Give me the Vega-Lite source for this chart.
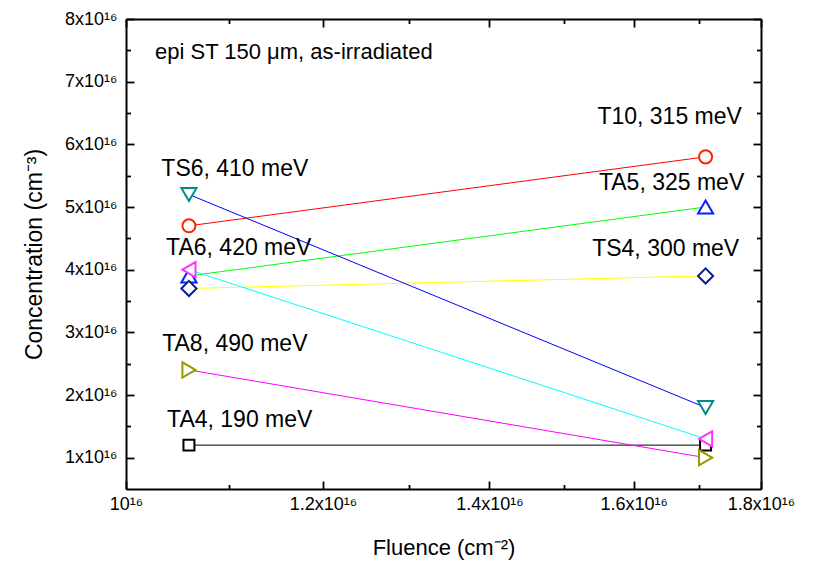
{
  "$schema": "https://vega.github.io/schema/vega-lite/v6.json",
  "autosize": {"type": "none"},
  "width": 635,
  "height": 470,
  "padding": {"left": 126, "top": 19, "right": 54, "bottom": 74},
  "background": "white",
  "config": {
    "view": {"stroke": null},
    "font": "Liberation Sans",
    "axis": {
      "domainColor": "black", "tickColor": "black", "domainWidth": 2, "tickWidth": 1.8,
      "labelColor": "black", "titleColor": "black", "labelFont": "Liberation Sans", "titleFont": "Liberation Sans",
      "grid": false, "labelFontSize": 18, "titleFontSize": 22, "titleFontWeight": "normal",
      "labelFlush": false, "labelOverlap": false
    }
  },
  "datasets": {
    "series": [
      {"series": "TA4", "fluence": 1.06e16, "conc": 1.2e16},
      {"series": "TA4", "fluence": 1.71e16, "conc": 1.2e16},
      {"series": "T10", "fluence": 1.06e16, "conc": 4.7e16},
      {"series": "T10", "fluence": 1.71e16, "conc": 5.8e16},
      {"series": "TA5", "fluence": 1.06e16, "conc": 3.9e16},
      {"series": "TA5", "fluence": 1.71e16, "conc": 5.0e16},
      {"series": "TS4", "fluence": 1.06e16, "conc": 3.7e16},
      {"series": "TS4", "fluence": 1.71e16, "conc": 3.9e16},
      {"series": "TS6", "fluence": 1.06e16, "conc": 5.2e16},
      {"series": "TS6", "fluence": 1.71e16, "conc": 1.8e16},
      {"series": "TA6", "fluence": 1.06e16, "conc": 4.0e16},
      {"series": "TA6", "fluence": 1.71e16, "conc": 1.3e16},
      {"series": "TA8", "fluence": 1.06e16, "conc": 2.4e16},
      {"series": "TA8", "fluence": 1.71e16, "conc": 1.0e16}
    ],
    "labels": [
      {"label": "TS6, 410 meV", "fluence": 1.106e16, "conc": 5.6e16},
      {"label": "TA6, 420 meV", "fluence": 1.110e16, "conc": 4.34e16},
      {"label": "TA8, 490 meV", "fluence": 1.106e16, "conc": 2.81e16},
      {"label": "TA4, 190 meV", "fluence": 1.111e16, "conc": 1.6e16},
      {"label": "T10, 315 meV", "fluence": 1.654e16, "conc": 6.44e16},
      {"label": "TA5, 325 meV", "fluence": 1.657e16, "conc": 5.38e16},
      {"label": "TS4, 300 meV", "fluence": 1.648e16, "conc": 4.33e16}
    ],
    "note": [
      {"label": "epi ST 150 μm, as-irradiated", "fluence": 1.0272e16, "conc": 7.47e16}
    ]
  },
  "layer": [
    {
      "data": {"name": "series"},
      "mark": {"type": "line", "strokeWidth": 1},
      "encoding": {
        "x": {
          "field": "fluence", "type": "quantitative",
          "scale": {"type": "log", "domain": [1e16, 1.8e16], "nice": false},
          "axis": {
            "orient": "bottom", "values": [1e16, 1.2e16, 1.4e16, 1.6e16, 1.8e16],
            "labelExpr": "datum.value < 1.05e16 ? '10¹⁶' : format(datum.value / 1e16, '.1f') + 'x10¹⁶'",
            "tickSize": -8, "labelPadding": 14, "title": "Fluence (cm⁻²)", "titlePadding": 24
          }
        },
        "y": {
          "field": "conc", "type": "quantitative",
          "scale": {"domain": [0.5e16, 8e16], "nice": false, "zero": false},
          "axis": {
            "orient": "left", "values": [1e16, 2e16, 3e16, 4e16, 5e16, 6e16, 7e16, 8e16],
            "labelExpr": "round(datum.value / 1e16) + 'x10¹⁶'",
            "tickSize": -8, "labelPadding": 17, "title": "Concentration (cm⁻³)", "titlePadding": 18,
            "titleFontSize": 23
          }
        },
        "color": {
          "field": "series", "type": "nominal", "legend": null,
          "scale": {
            "domain": ["TA4", "T10", "TA5", "TS4", "TS6", "TA6", "TA8"],
            "range": ["#000000", "#FF0000", "#00FF00", "#FFFF00", "#0000FF", "#00FFFF", "#FF00FF"]
          }
        }
      }
    },
    {
      "data": {"name": "series"},
      "mark": {"type": "point", "filled": false, "fill": "white", "fillOpacity": 1, "strokeWidth": 2, "opacity": 1},
      "encoding": {
        "x": {
          "field": "fluence", "type": "quantitative",
          "axis": {"orient": "bottom", "values": [1.1e16, 1.3e16, 1.5e16, 1.7e16], "labels": false, "domain": false, "tickSize": -4.5, "title": null}
        },
        "y": {
          "field": "conc", "type": "quantitative",
          "axis": {"orient": "left", "values": [1.5e16, 2.5e16, 3.5e16, 4.5e16, 5.5e16, 6.5e16, 7.5e16], "labels": false, "domain": false, "tickSize": -4.5, "title": null}
        },
        "stroke": {
          "field": "series", "type": "nominal", "legend": null,
          "scale": {
            "domain": ["TA4", "T10", "TA5", "TS4", "TS6", "TA6", "TA8"],
            "range": ["#000000", "#FF2200", "#0022FF", "#0B1E94", "#008C8C", "#FF33FF", "#999900"]
          }
        },
        "shape": {
          "field": "series", "type": "nominal", "legend": null,
          "scale": {
            "domain": ["TA4", "T10", "TA5", "TS4", "TS6", "TA6", "TA8"],
            "range": ["square", "circle", "triangle-up", "diamond", "triangle-down", "triangle-left", "triangle-right"]
          }
        },
        "size": {
          "condition": [
            {"test": "datum.series === 'TA4'", "value": 120},
            {"test": "datum.series === 'T10'", "value": 170}
          ],
          "value": 230
        }
      }
    },
    {
      "data": {"name": "labels"},
      "mark": {"type": "text", "fontSize": 23, "align": "center", "baseline": "middle", "color": "black", "font": "Liberation Sans"},
      "encoding": {
        "x": {
          "field": "fluence", "type": "quantitative",
          "axis": {"orient": "top", "values": [1e16, 1.2e16, 1.4e16, 1.6e16, 1.8e16], "labels": false, "tickSize": -8, "title": null}
        },
        "y": {
          "field": "conc", "type": "quantitative",
          "axis": {"orient": "right", "values": [1e16, 2e16, 3e16, 4e16, 5e16, 6e16, 7e16, 8e16], "labels": false, "tickSize": -8, "title": null}
        },
        "text": {"field": "label", "type": "nominal"}
      }
    },
    {
      "data": {"name": "note"},
      "mark": {"type": "text", "fontSize": 22, "align": "left", "baseline": "middle", "color": "black", "font": "Liberation Sans"},
      "encoding": {
        "x": {
          "field": "fluence", "type": "quantitative",
          "axis": {"orient": "top", "values": [1.1e16, 1.3e16, 1.5e16, 1.7e16], "labels": false, "domain": false, "tickSize": -4.5, "title": null}
        },
        "y": {
          "field": "conc", "type": "quantitative",
          "axis": {"orient": "right", "values": [1.5e16, 2.5e16, 3.5e16, 4.5e16, 5.5e16, 6.5e16, 7.5e16], "labels": false, "domain": false, "tickSize": -4.5, "title": null}
        },
        "text": {"field": "label", "type": "nominal"}
      }
    }
  ],
  "resolve": {"axis": {"x": "independent", "y": "independent"}}
}
